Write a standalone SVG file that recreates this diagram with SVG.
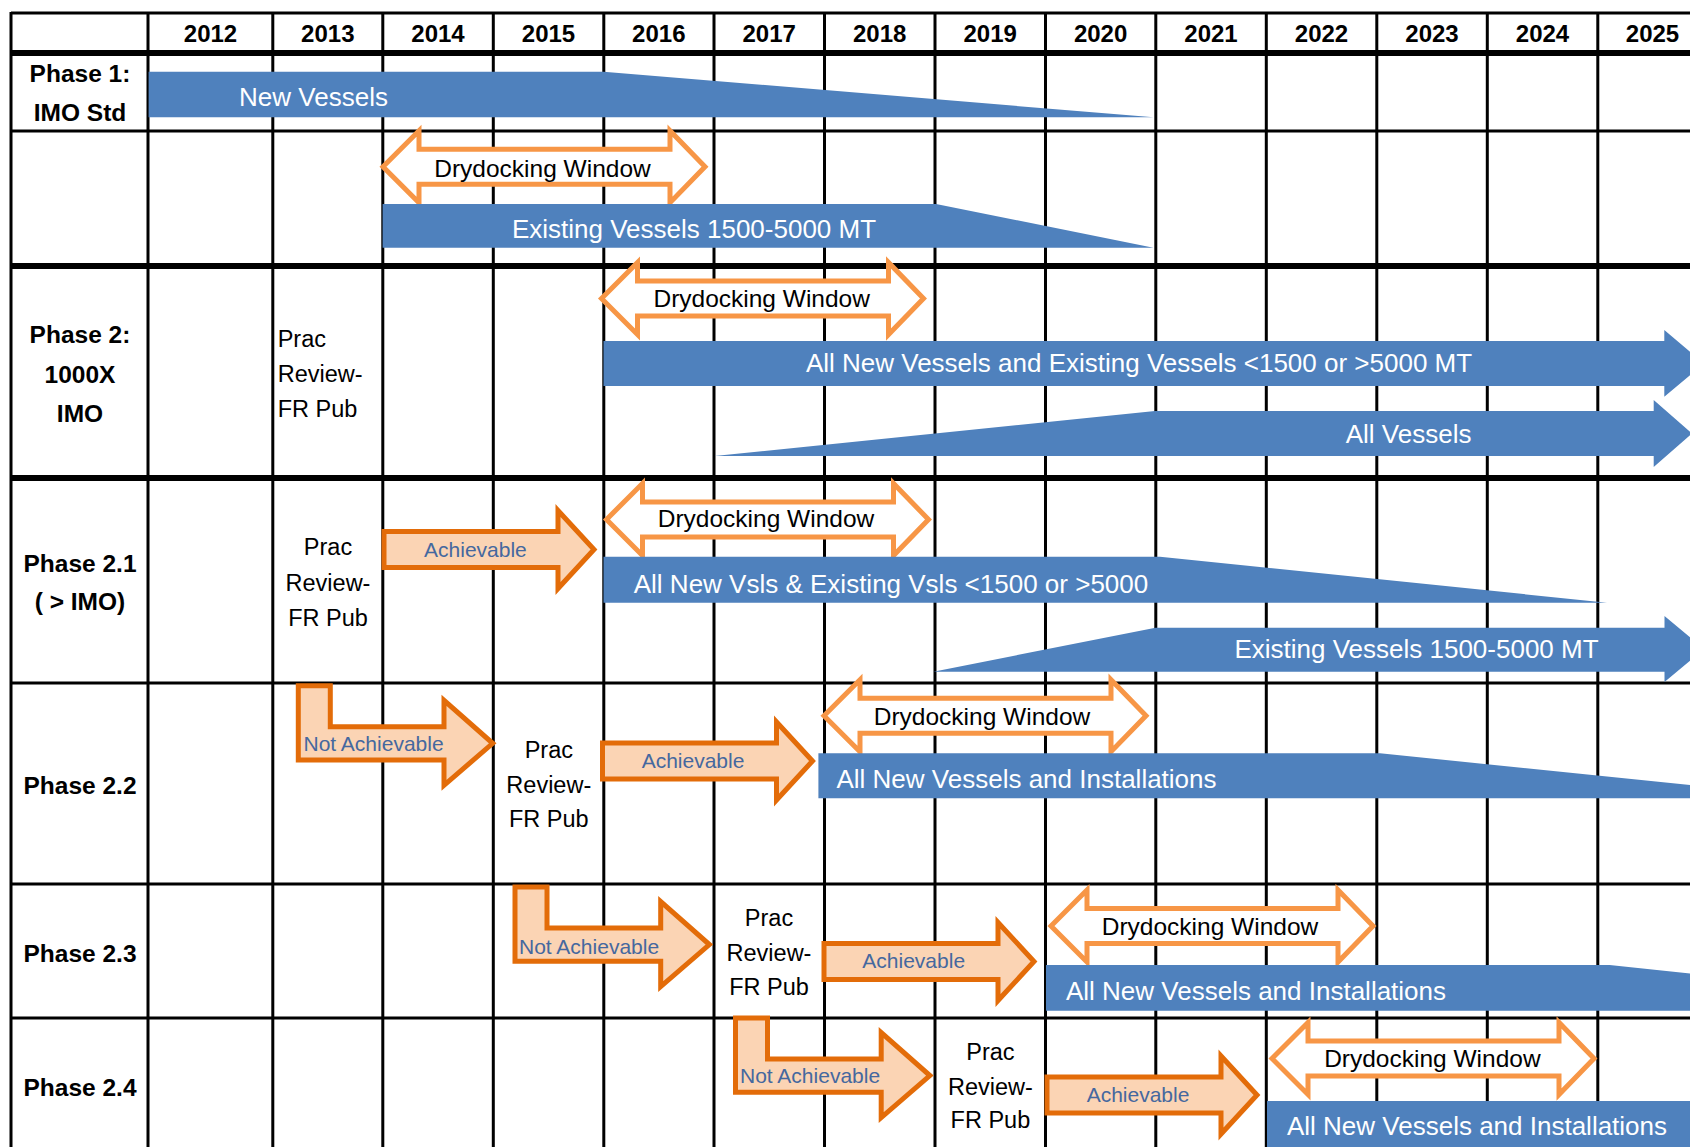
<svg xmlns="http://www.w3.org/2000/svg" xmlns:xlink="http://www.w3.org/1999/xlink" width="1690" height="1147" viewBox="0 0 1690 1147">
<style>
.bg{fill:#fff}
.ln{stroke:#000;stroke-width:3;fill:none}
.lnk{stroke:#000;stroke-width:6;fill:none}
.blue{fill:#4F81BD}
.dd{fill:#fff;stroke:#F79646;stroke-width:5;stroke-linejoin:miter}
.ach{fill:#FBD4B4;stroke:#E36C09;stroke-width:5;stroke-linejoin:miter}
text{font-family:"Liberation Sans",Arial,sans-serif}
.yr{font-size:24px;font-weight:bold;fill:#000;text-anchor:middle}
.lbl{font-size:24.5px;font-weight:bold;fill:#000;text-anchor:middle}
.pr{font-size:23.5px;fill:#000;text-anchor:middle}
.prl{font-size:23.5px;fill:#000;text-anchor:start}
.ddt{font-size:24.5px;fill:#000;text-anchor:middle}
.bt{font-size:26px;fill:#fff;text-anchor:middle}
.at{font-size:21px;fill:#45689F;text-anchor:middle}
.nat{font-size:21px;fill:#45689F;text-anchor:start}
</style>
<defs>
<path id="dd" d="M0,0 L36,-36 L36,-17.5 L287,-17.5 L287,-36 L322,0 L287,36 L287,17.5 L36,17.5 L36,36 Z"/>
<path id="ach" d="M0,-18 H174 V-39 L210,0 L174,39 V18 H0 Z"/>
<path id="nach" d="M0,0 H32 V41 H145.7 V14.6 L194.4,57.6 L145.7,99.6 V74.3 H0 Z"/>
</defs>
<rect class="bg" x="0" y="0" width="1690" height="1147"/>

<g id="grid">
<path class="ln" d="M11,13 H1690"/>
<path class="lnk" d="M11,53 H1690"/>
<path class="ln" d="M11,131 H1690"/>
<path class="lnk" d="M11,266 H1690"/>
<path class="lnk" d="M11,478 H1690"/>
<path class="ln" d="M11,683 H1690"/>
<path class="ln" d="M11,884 H1690"/>
<path class="ln" d="M11,1018 H1690"/>
<path class="ln" d="M11,12 V1147 M148,12 V1147 M272.8,12 V1147 M382.8,12 V1147 M493.3,12 V1147 M603.8,12 V1147 M714,12 V1147 M824.5,12 V1147 M935,12 V1147 M1045.5,12 V1147 M1155.8,12 V1147 M1266.3,12 V1147 M1376.8,12 V1147 M1487.3,12 V1147 M1597.8,12 V1147"/>
</g>

<g id="header">
<text class="yr" x="210.5" y="41.7">2012</text>
<text class="yr" x="327.8" y="41.7">2013</text>
<text class="yr" x="438" y="41.7">2014</text>
<text class="yr" x="548.5" y="41.7">2015</text>
<text class="yr" x="658.8" y="41.7">2016</text>
<text class="yr" x="769.2" y="41.7">2017</text>
<text class="yr" x="879.7" y="41.7">2018</text>
<text class="yr" x="990.2" y="41.7">2019</text>
<text class="yr" x="1100.6" y="41.7">2020</text>
<text class="yr" x="1211" y="41.7">2021</text>
<text class="yr" x="1321.5" y="41.7">2022</text>
<text class="yr" x="1432" y="41.7">2023</text>
<text class="yr" x="1542.5" y="41.7">2024</text>
<text class="yr" x="1652.5" y="41.7">2025</text>
</g>

<g id="row-labels">
<text class="lbl" x="80" y="81.7">Phase 1:</text>
<text class="lbl" x="80" y="120.5">IMO Std</text>
<text class="lbl" x="80" y="343.3">Phase 2:</text>
<text class="lbl" x="80" y="383.3">1000X</text>
<text class="lbl" x="80" y="421.7">IMO</text>
<text class="lbl" x="80" y="571.7">Phase 2.1</text>
<text class="lbl" x="80" y="610">( &gt; IMO)</text>
<text class="lbl" x="80" y="794">Phase 2.2</text>
<text class="lbl" x="80" y="961.7">Phase 2.3</text>
<text class="lbl" x="80" y="1095.7">Phase 2.4</text>
</g>

<g id="p1-new-vessels">
<polygon class="blue" points="148.6,71.7 603.6,71.7 1153.5,117.3 148.6,117.3"/>
<text class="bt" x="313.5" y="106">New Vessels</text>
</g>
<g id="p1-drydock">
<use xlink:href="#dd" href="#dd" class="dd" x="383" y="166.7"/>
<text class="ddt" x="542.5" y="176.7">Drydocking Window</text>
</g>
<g id="p1-existing">
<polygon class="blue" points="382.6,204 936,204 1153.5,247.7 382.6,247.7"/>
<text class="bt" x="694" y="238.3">Existing Vessels 1500-5000 MT</text>
</g>

<g id="p2-prac">
<text class="prl" x="277.7" y="347.3">Prac</text>
<text class="prl" x="277.7" y="382.3">Review-</text>
<text class="prl" x="277.7" y="416.7">FR Pub</text>
</g>
<g id="p2-drydock">
<use xlink:href="#dd" href="#dd" class="dd" x="601.5" y="298.5"/>
<text class="ddt" x="761.7" y="306.7">Drydocking Window</text>
</g>
<g id="p2-all-new">
<polygon class="blue" points="603.5,341 1664.3,341 1664.3,330 1704,363.5 1664.3,396.7 1664.3,386 603.5,386"/>
<text class="bt" x="1139" y="371.7">All New Vessels and Existing Vessels &lt;1500 or &gt;5000 MT</text>
</g>
<g id="p2-all-vessels">
<polygon class="blue" points="714.6,456 1155,411 1653.7,411 1653.7,400 1692,433.5 1653.7,467 1653.7,456"/>
<text class="bt" x="1408.6" y="442.7">All Vessels</text>
</g>

<g id="p21-prac">
<text class="pr" x="328" y="555">Prac</text>
<text class="pr" x="328" y="590.7">Review-</text>
<text class="pr" x="328" y="625.7">FR Pub</text>
</g>
<g id="p21-achievable">
<use xlink:href="#ach" href="#ach" class="ach" x="384" y="549.5"/>
<text class="at" x="475.4" y="556.7">Achievable</text>
</g>
<g id="p21-drydock">
<use xlink:href="#dd" href="#dd" class="dd" x="606.5" y="519.5"/>
<text class="ddt" x="766" y="526.7">Drydocking Window</text>
</g>
<g id="p21-all-new">
<polygon class="blue" points="603.5,556.7 1160,556.7 1607,602.7 603.5,602.7"/>
<text class="bt" x="891" y="593.3">All New Vsls &amp; Existing Vsls &lt;1500 or &gt;5000</text>
</g>
<g id="p21-existing">
<polygon class="blue" points="933.3,671.7 1155.5,627.7 1664.5,627.7 1664.5,616 1704,649 1664.5,682 1664.5,671.7"/>
<text class="bt" x="1416.5" y="658.3">Existing Vessels 1500-5000 MT</text>
</g>

<g id="p22-not-achievable">
<use xlink:href="#nach" href="#nach" class="ach" x="298.3" y="685.7"/>
<text class="nat" x="303.5" y="751">Not Achievable</text>
</g>
<g id="p22-prac">
<text class="pr" x="548.8" y="758.3">Prac</text>
<text class="pr" x="548.8" y="793.3">Review-</text>
<text class="pr" x="548.8" y="827.3">FR Pub</text>
</g>
<g id="p22-achievable">
<use xlink:href="#ach" href="#ach" class="ach" x="602.5" y="761"/>
<text class="at" x="693" y="768.3">Achievable</text>
</g>
<g id="p22-drydock">
<use xlink:href="#dd" href="#dd" class="dd" x="824" y="715.7"/>
<text class="ddt" x="982" y="725">Drydocking Window</text>
</g>
<g id="p22-installations">
<polygon class="blue" points="818.4,753.3 1380,753.3 1820,798.3 818.4,798.3"/>
<text class="bt" x="1026.5" y="788.3">All New Vessels and Installations</text>
</g>

<g id="p23-not-achievable">
<use xlink:href="#nach" href="#nach" class="ach" x="515" y="887"/>
<text class="nat" x="519" y="954">Not Achievable</text>
</g>
<g id="p23-prac">
<text class="pr" x="769" y="926">Prac</text>
<text class="pr" x="769" y="960.7">Review-</text>
<text class="pr" x="769" y="995">FR Pub</text>
</g>
<g id="p23-achievable">
<use xlink:href="#ach" href="#ach" class="ach" x="824" y="961.5"/>
<text class="at" x="913.7" y="967.7">Achievable</text>
</g>
<g id="p23-drydock">
<use xlink:href="#dd" href="#dd" class="dd" x="1051" y="926"/>
<text class="ddt" x="1210" y="935">Drydocking Window</text>
</g>
<g id="p23-installations">
<polygon class="blue" points="1046,965 1609.6,965 1690,973.4 1690,1010.7 1046,1010.7"/>
<text class="bt" x="1256" y="1000">All New Vessels and Installations</text>
</g>

<g id="p24-not-achievable">
<use xlink:href="#nach" href="#nach" class="ach" x="735.5" y="1018"/>
<text class="nat" x="740" y="1083.3">Not Achievable</text>
</g>
<g id="p24-prac">
<text class="pr" x="990.4" y="1060">Prac</text>
<text class="pr" x="990.4" y="1095">Review-</text>
<text class="pr" x="990.4" y="1128.3">FR Pub</text>
</g>
<g id="p24-achievable">
<use xlink:href="#ach" href="#ach" class="ach" x="1047" y="1095"/>
<text class="at" x="1138" y="1101.7">Achievable</text>
</g>
<g id="p24-drydock">
<use xlink:href="#dd" href="#dd" class="dd" x="1272" y="1058.5"/>
<text class="ddt" x="1432.4" y="1066.7">Drydocking Window</text>
</g>
<g id="p24-installations">
<polygon class="blue" points="1267,1101 1690,1101 1690,1147 1267,1147"/>
<text class="bt" x="1477" y="1135">All New Vessels and Installations</text>
</g>

<g id="connectors"></g>
</svg>
